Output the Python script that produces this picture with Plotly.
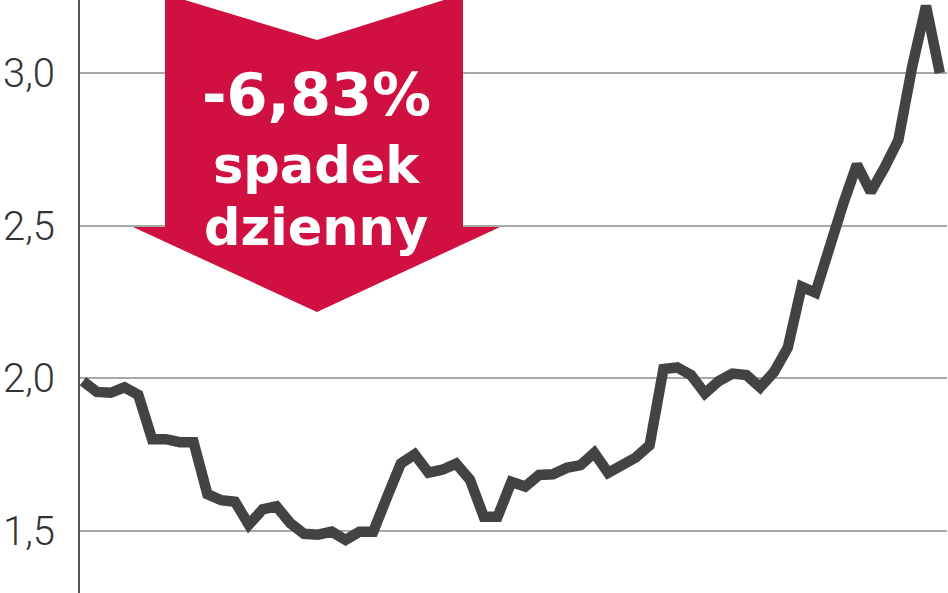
import plotly.graph_objects as go

# ---- data ----
days = list(range(63))
price = [1.99, 1.955, 1.952, 1.97, 1.945, 1.80, 1.80, 1.79, 1.79, 1.62,
         1.60, 1.595, 1.52, 1.57, 1.58, 1.525, 1.49, 1.487, 1.497, 1.47,
         1.497, 1.497, 1.61, 1.72, 1.75, 1.69, 1.70, 1.72, 1.667, 1.546,
         1.546, 1.66, 1.645, 1.683, 1.685, 1.706, 1.715, 1.755, 1.69, 1.716,
         1.74, 1.78, 2.03, 2.035, 2.01, 1.95, 1.99, 2.015, 2.01, 1.97,
         2.02, 2.10, 2.30, 2.28, 2.44, 2.57, 2.70, 2.61, 2.69, 2.78,
         3.02, 3.22, 3.00]
tick_vals = [1.5, 2.0, 2.5, 3.0]
tick_text = ["1,5", "2,0", "2,5", "3,0"]
badge_lines = ["-6,83%", "spadek", "dzienny"]

W, H = 948, 593
ML, MR = 80, 1
PW = W - ML - MR

def px(x):
    return (x - ML) / PW

def py(y):
    return 1 - y / H

fig = go.Figure()
fig.add_trace(go.Scatter(
    x=days, y=price, mode="lines",
    line=dict(color="#434343", width=10.5),
    hoverinfo="skip",
))

# red arrow badge
pts = [(165, -6), (317, 40), (463, -6), (463, 227), (500, 227),
       (317, 312), (133, 227), (165, 227)]
path = "M " + " L ".join(f"{px(a):.5f},{py(b):.5f}" for a, b in pts) + " Z"
fig.add_shape(type="path", path=path, xref="paper", yref="paper",
              fillcolor="#CF1040", line=dict(width=0), layer="above")

specs = [(badge_lines[0], 59, 95), (badge_lines[1], 51, 165), (badge_lines[2], 51, 228)]
for txt, size, yc in specs:
    fig.add_annotation(text=txt, xref="paper", yref="paper",
                       x=px(316), y=py(yc), xanchor="center", yanchor="middle",
                       showarrow=False,
                       font=dict(family="DejaVu Sans", size=size, color="white", weight="bold"))

fig.update_layout(
    width=W, height=H,
    margin=dict(l=ML, r=MR, t=0, b=0, autoexpand=False),
    paper_bgcolor="white", plot_bgcolor="white",
    showlegend=False,
    xaxis=dict(range=[-0.217, 62.52], showgrid=False, zeroline=False,
               showticklabels=False, showline=False, ticks="", automargin=False),
    yaxis=dict(range=[1.296, 3.239], tickvals=tick_vals, ticktext=tick_text,
               showgrid=True, gridcolor="#a8a8a8", gridwidth=2, automargin=False,
               zeroline=False, showline=True, linecolor="#555555", linewidth=2,
               ticks="", ticklabelstandoff=15,
               tickfont=dict(family="Roboto", size=40, color="#333333", weight=300)),
)

fig.write_html("out.html", config={"displayModeBar": False},
               post_script="document.body.style.margin='0';document.body.style.overflow='hidden';")
